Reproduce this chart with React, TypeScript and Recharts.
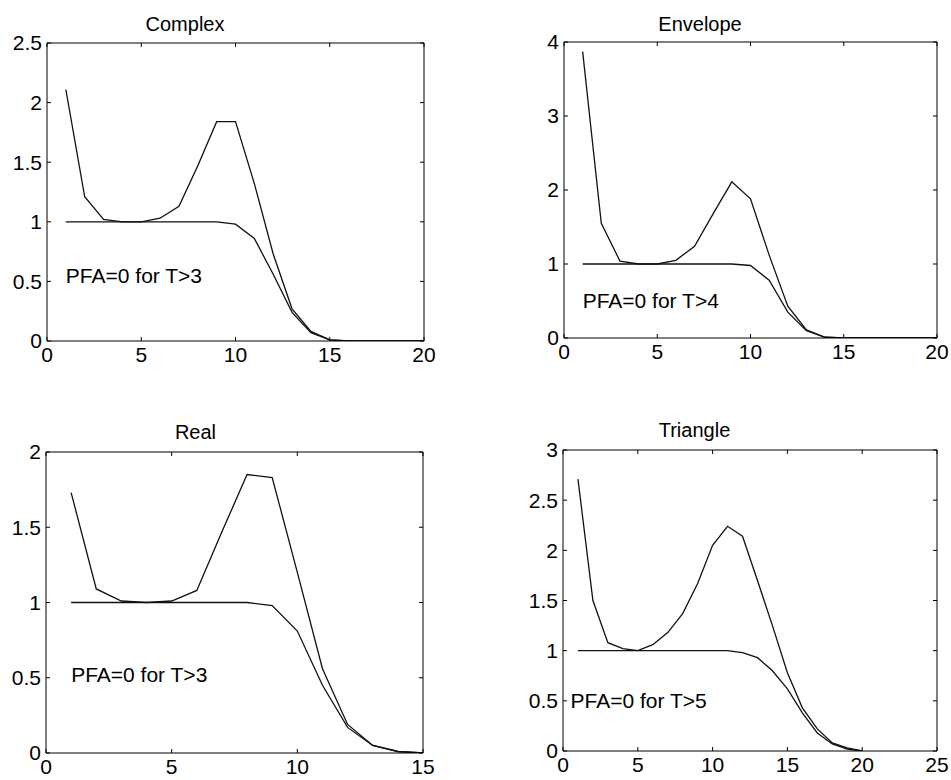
import { LineChart, Line, XAxis, YAxis, ReferenceDot } from 'recharts'

// x positions (T) for each panel
const complexX = [1, 2, 3, 4, 5, 6, 7, 8, 9, 10, 11, 12, 13, 14, 15, 16, 17, 18, 19, 20]
const complexUpper = [2.11, 1.21, 1.02, 1.0, 1.0, 1.03, 1.13, 1.47, 1.84, 1.84, 1.32, 0.73, 0.27, 0.08, 0.01, 0, 0, 0, 0, 0]
const complexLower = [1, 1, 1, 1, 1, 1, 1, 1, 1, 0.98, 0.86, 0.56, 0.24, 0.07, 0.01, 0, 0, 0, 0, 0]

const envelopeX = [1, 2, 3, 4, 5, 6, 7, 8, 9, 10, 11, 12, 13, 14, 15, 16, 17, 18, 19, 20]
const envelopeUpper = [3.87, 1.55, 1.04, 1.0, 1.0, 1.05, 1.24, 1.68, 2.11, 1.88, 1.12, 0.43, 0.11, 0.01, 0, 0, 0, 0, 0, 0]
const envelopeLower = [1, 1, 1, 1, 1, 1, 1, 1, 1, 0.98, 0.78, 0.35, 0.1, 0.01, 0, 0, 0, 0, 0, 0]

const realX = [1, 2, 3, 4, 5, 6, 7, 8, 9, 10, 11, 12, 13, 14, 15]
const realUpper = [1.73, 1.09, 1.01, 1.0, 1.01, 1.08, 1.47, 1.85, 1.83, 1.2, 0.56, 0.19, 0.05, 0.01, 0]
const realLower = [1, 1, 1, 1, 1, 1, 1, 1, 0.98, 0.81, 0.45, 0.17, 0.05, 0.01, 0]

const triangleX = [1, 2, 3, 4, 5, 6, 7, 8, 9, 10, 11, 12, 13, 14, 15, 16, 17, 18, 19, 20]
const triangleUpper = [2.71, 1.5, 1.08, 1.02, 1.0, 1.06, 1.18, 1.37, 1.67, 2.05, 2.24, 2.14, 1.7, 1.25, 0.78, 0.43, 0.22, 0.08, 0.03, 0]
const triangleLower = [1, 1, 1, 1, 1, 1, 1, 1, 1, 1, 1, 0.98, 0.93, 0.8, 0.62, 0.38, 0.18, 0.07, 0.02, 0]

const ticks20 = [0, 5, 10, 15, 20]
const ticks15 = [0, 5, 10, 15]
const ticks25 = [0, 5, 10, 15, 20, 25]
const complexYTicks = [0, 0.5, 1, 1.5, 2, 2.5]
const envelopeYTicks = [0, 1, 2, 3, 4]
const realYTicks = [0, 0.5, 1, 1.5, 2]
const triangleYTicks = [0, 0.5, 1, 1.5, 2, 2.5, 3]

const FONT = '"Liberation Sans", Arial, Helvetica, sans-serif'
const Y_W = 60
const TOP = 40
const BOT = 40
const RIGHT = 26
const TICK = 4

const panels = [
  {
    title: 'Complex', x: complexX, upper: complexUpper, lower: complexLower,
    xTicks: ticks20, yTicks: complexYTicks, note: 'PFA=0 for T>3', noteX: 1, noteY: 0.55,
    box: { left: 47, top: 43, w: 377, h: 298 }, titleX: 185, titleY: 23.5,
  },
  {
    title: 'Envelope', x: envelopeX, upper: envelopeUpper, lower: envelopeLower,
    xTicks: ticks20, yTicks: envelopeYTicks, note: 'PFA=0 for T>4', noteX: 1, noteY: 0.5,
    box: { left: 564, top: 42, w: 373, h: 296 }, titleX: 700, titleY: 23.5,
  },
  {
    title: 'Real', x: realX, upper: realUpper, lower: realLower,
    xTicks: ticks15, yTicks: realYTicks, note: 'PFA=0 for T>3', noteX: 1, noteY: 0.52,
    box: { left: 46, top: 452, w: 377, h: 301 }, titleX: 195.5, titleY: 431.5,
  },
  {
    title: 'Triangle', x: triangleX, upper: triangleUpper, lower: triangleLower,
    xTicks: ticks25, yTicks: triangleYTicks, note: 'PFA=0 for T>5', noteX: 0.5, noteY: 0.5,
    box: { left: 563, top: 450, w: 374, h: 301 }, titleX: 694.5, titleY: 429,
  },
]

// MATLAB-style ticks: short marks pointing into the box, labels outside
const BottomTick = ({ x, y, payload }: any) => (
  <g>
    <line x1={x} x2={x} y1={y - 6} y2={y - 6 - TICK} stroke="#000" />
    <text x={x} y={y} dy="0.71em" textAnchor="middle" fill="#000" fontSize={21} fontFamily={FONT}>
      {payload.value}
    </text>
  </g>
)

const LeftTick = ({ x, y, payload }: any) => (
  <g>
    <line x1={x + 5} x2={x + 5 + TICK} y1={y} y2={y} stroke="#000" />
    <text x={x} y={y} dy="0.355em" textAnchor="end" fill="#000" fontSize={21} fontFamily={FONT}>
      {payload.value}
    </text>
  </g>
)

const TopTick = ({ x, y }: any) => <line x1={x} x2={x} y1={y} y2={y + TICK} stroke="#000" />
const RightTick = ({ x, y }: any) => <line x1={x} x2={x - TICK} y1={y} y2={y} stroke="#000" />

function Panel({ p }: { p: (typeof panels)[number] }) {
  const rows = p.x.map((x, i) => ({ x, upper: p.upper[i], lower: p.lower[i] }))
  const xMax = p.xTicks[p.xTicks.length - 1]
  const yMax = p.yTicks[p.yTicks.length - 1]
  const W = p.box.w + Y_W + RIGHT
  const H = p.box.h + TOP + BOT
  return (
    <>
      <div
        style={{
          position: 'absolute', left: p.titleX - 100, top: p.titleY - 9.5, width: 200,
          textAlign: 'center', fontFamily: FONT, fontSize: 20, lineHeight: '20px', color: '#000',
        }}
      >
        {p.title}
      </div>
      <div style={{ position: 'absolute', left: p.box.left - Y_W, top: p.box.top - TOP }}>
        <LineChart width={W} height={H} data={rows} margin={{ top: TOP - 1, right: RIGHT - 1, bottom: 0, left: 0 }}>
          <XAxis
            xAxisId="b" dataKey="x" type="number" domain={[0, xMax]} ticks={p.xTicks}
            height={BOT} tickSize={0} tickMargin={6} tickLine={false} stroke="#000" tick={BottomTick}
            allowDataOverflow interval={0}
          />
          <XAxis
            xAxisId="t" dataKey="x" orientation="top" type="number" domain={[0, xMax]} ticks={p.xTicks}
            height={1} tickSize={0} tickMargin={0} tickLine={false} stroke="#000" tick={TopTick}
            allowDataOverflow interval={0}
          />
          <YAxis
            yAxisId="l" type="number" domain={[0, yMax]} ticks={p.yTicks}
            width={Y_W} tickSize={0} tickMargin={5} tickLine={false} stroke="#000" tick={LeftTick}
            allowDataOverflow interval={0}
          />
          <YAxis
            yAxisId="r" orientation="right" type="number" domain={[0, yMax]} ticks={p.yTicks}
            width={1} tickSize={0} tickMargin={0} tickLine={false} stroke="#000" tick={RightTick}
            allowDataOverflow interval={0}
          />
          <Line xAxisId="b" yAxisId="l" type="linear" dataKey="upper" stroke="#111" strokeWidth={1.3} dot={false} isAnimationActive={false} />
          <Line xAxisId="b" yAxisId="l" type="linear" dataKey="lower" stroke="#111" strokeWidth={1.3} dot={false} isAnimationActive={false} />
          <ReferenceDot
            xAxisId="b" yAxisId="l" x={p.noteX} y={p.noteY} r={0} stroke="none" fill="none"
            label={{ value: p.note, position: 'right', offset: 0, fill: '#000', fontSize: 21, fontFamily: FONT }}
          />
        </LineChart>
      </div>
    </>
  )
}

export default function App() {
  return (
    <div style={{ position: 'absolute', left: 0, top: 0, width: 951, height: 780, background: '#fff', overflow: 'hidden' }}>
      {panels.map(p => (
        <Panel key={p.title} p={p} />
      ))}
    </div>
  )
}
